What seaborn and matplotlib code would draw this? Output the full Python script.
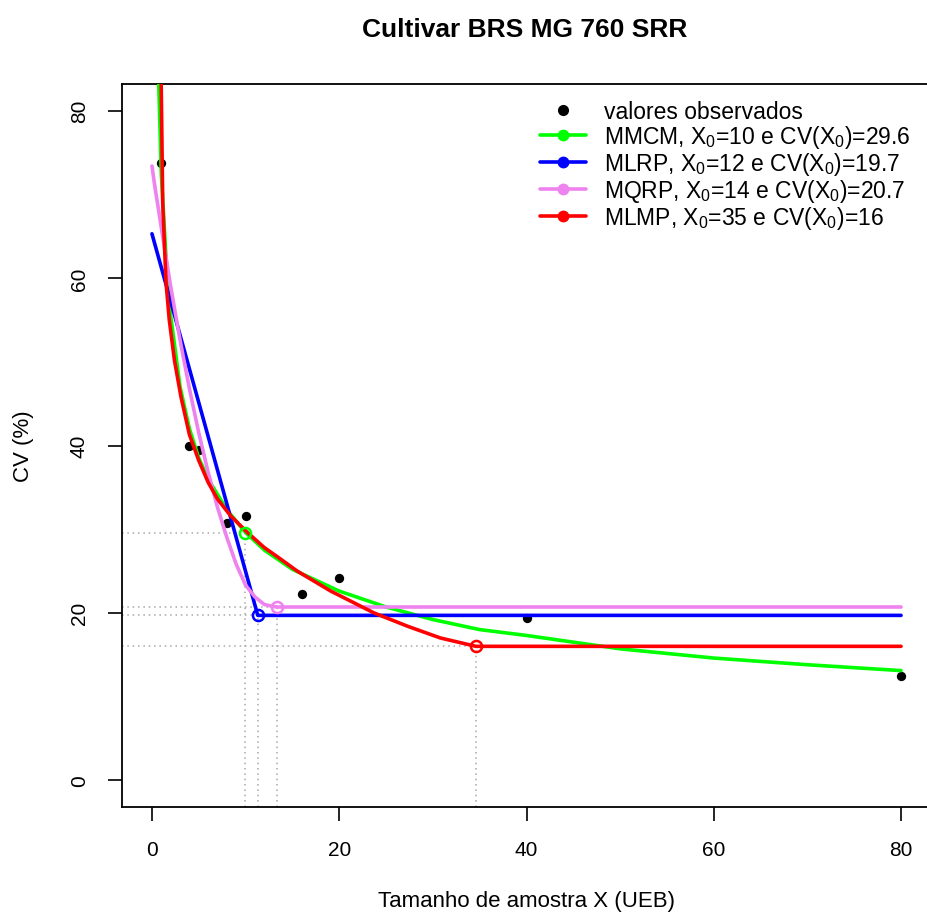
import numpy as np
import pandas as pd
import seaborn as sns
import matplotlib
matplotlib.use("Agg")
import matplotlib.pyplot as plt
from matplotlib.lines import Line2D

# ---------------- data ----------------
obs_x = [1, 4, 5, 8, 10, 16, 20, 40, 80]
obs_y = [73.7, 40.0, 39.5, 30.7, 31.6, 22.3, 24.2, 19.4, 12.5]

# MMCM (green) fitted curve
mmcm_x = [0.6, 1, 1.5, 2, 3, 4, 5, 6, 8, 10, 12, 15, 20, 25, 30, 35, 40, 50, 60, 70, 80]
mmcm_y = [88, 72.4, 62.5, 55.5, 47.0, 42.0, 38.5, 36.0, 32.3, 29.6, 27.5, 25.2, 22.6,
          20.7, 19.2, 18.0, 17.3, 15.7, 14.6, 13.8, 13.1]

# MLRP (blue) linear response plateau
mlrp_x = [0, 11.3, 80]
mlrp_y = [65.3, 19.7, 19.7]

# MQRP (violet) quadratic response plateau
mqrp_x = [0, 0.25, 1, 2, 3, 4, 5, 6, 7, 8, 9, 10, 11, 12, 13, 13.4, 80]
mqrp_y = [73.4, 71.4, 66.0, 59.0, 52.6, 46.8, 41.5, 36.8, 32.6, 29.0, 25.8, 23.3,
          21.9, 21.0, 20.75, 20.7, 20.7]

# MLMP (red)
mlmp_x = [0.85, 1.15, 1.5, 1.85, 2.4, 3.1, 4.0, 5.0, 6.0, 7.0, 8.4, 10.2, 12.0, 13.4,
          15.5, 19.1, 23.7, 27.3, 30.8, 34.6, 80]
mlmp_y = [95, 69, 59.5, 55.0, 50.2, 45.8, 41.3, 38.2, 35.6, 33.6, 31.6, 29.6, 27.8,
          26.7, 25.0, 22.6, 20.0, 18.4, 17.0, 16.0, 16.0]

# critical points (X0, CV(X0)) as located in the plot, and legend values
x0_pts = [9.9, 11.3, 13.4, 34.6]
cv0_pts = [29.6, 19.7, 20.7, 16.0]
model_names = ["MMCM", "MLRP", "MQRP", "MLMP"]
x0_labels = ["10", "12", "14", "35"]
cv0_labels = ["29.6", "19.7", "20.7", "16"]
colors = ["#00ff00", "#0000ff", "#ee82ee", "#ff0000"]

x_ticks = [0, 20, 40, 60, 80]
y_ticks = [0, 20, 40, 60, 80]

# ---------------- plotting ----------------
sns.set_theme(style="white")
plt.rcParams["font.family"] = ["Liberation Sans", "DejaVu Sans"]
plt.rcParams["mathtext.fontset"] = "custom"
plt.rcParams["mathtext.rm"] = "Liberation Sans"
plt.rcParams["mathtext.it"] = "Liberation Sans"
plt.rcParams["text.color"] = "black"
plt.rcParams["axes.labelcolor"] = "black"

fig = plt.figure(figsize=(9.27, 9.2), dpi=100)
ax = fig.add_axes([122 / 927, (920 - 808) / 920, (931 - 122) / 927, (808 - 85) / 920])
ax.set_xlim(-3.2, 83.2)
ax.set_ylim(-3.2, 83.2)

# dotted reference lines
for x0, c0 in zip(x0_pts, cv0_pts):
    ax.plot([-3.2, x0], [c0, c0], color="#a8a8a8", lw=1.1, ls=(0, (1, 2.5)), zorder=1)
    ax.plot([x0, x0], [-3.2, c0], color="#a8a8a8", lw=1.1, ls=(0, (1, 2.5)), zorder=1)

# observed values
obs = pd.DataFrame({"x": obs_x, "y": obs_y})
sns.scatterplot(data=obs, x="x", y="y", color="black", s=45, edgecolor="black",
                linewidth=0, ax=ax, zorder=2, legend=False)

curves = [(mmcm_x, mmcm_y), (mlrp_x, mlrp_y), (mqrp_x, mqrp_y), (mlmp_x, mlmp_y)]
for (cx, cy), col in zip(curves, colors):
    df = pd.DataFrame({"x": cx, "y": cy})
    sns.lineplot(data=df, x="x", y="y", color=col, lw=2.6, sort=False,
                 estimator=None, ax=ax, zorder=3)

for x0, c0, col in zip(x0_pts, cv0_pts, colors):
    ax.plot([x0], [c0], marker="o", ms=8, mfc="none", mec=col, mew=1.8, zorder=4)

# axes styling (R base look)
ax.set_xticks(x_ticks)
ax.set_yticks(y_ticks)
ax.set_xticklabels([str(t) for t in x_ticks], fontsize=15)
ax.set_yticklabels([str(t) for t in y_ticks], fontsize=15, rotation=90, va="center")
ax.tick_params(axis="both", direction="out", length=10, width=1.2, color="black",
               labelcolor="black", bottom=True, left=True)
ax.tick_params(axis="x", pad=14)
ax.tick_params(axis="y", pad=14)
for sp in ax.spines.values():
    sp.set_color("black")
    sp.set_linewidth(1.3)
ax.set_xlabel("Tamanho de amostra X (UEB)", fontsize=16, labelpad=22)
ax.set_ylabel("CV (%)", fontsize=16, labelpad=26)
ax.grid(False)

fig.text(525 / 927, 1 - 30 / 920, "Cultivar BRS MG 760 SRR", ha="center", va="center",
         fontsize=19, fontweight="bold")

# legend
handles = [Line2D([0], [0], color="none", marker="o", mfc="black", mec="black", ms=7)]
labels = ["valores observados"]
for name, xl, cl, col in zip(model_names, x0_labels, cv0_labels, colors):
    handles.append(Line2D([0], [0], color=col, lw=2.6, marker="o", mfc=col, mec=col, ms=7.5))
    labels.append(name + r", X$_0$=" + xl + r" e CV(X$_0$)=" + cl)
leg = ax.legend(handles, labels, loc="upper left", bbox_to_anchor=(0.517, 0.978),
                frameon=False, fontsize=16.5, handlelength=2.0, handletextpad=0.8,
                labelspacing=0.0, borderaxespad=0, borderpad=0)

fig.savefig("out.png", dpi=100, facecolor="white")
